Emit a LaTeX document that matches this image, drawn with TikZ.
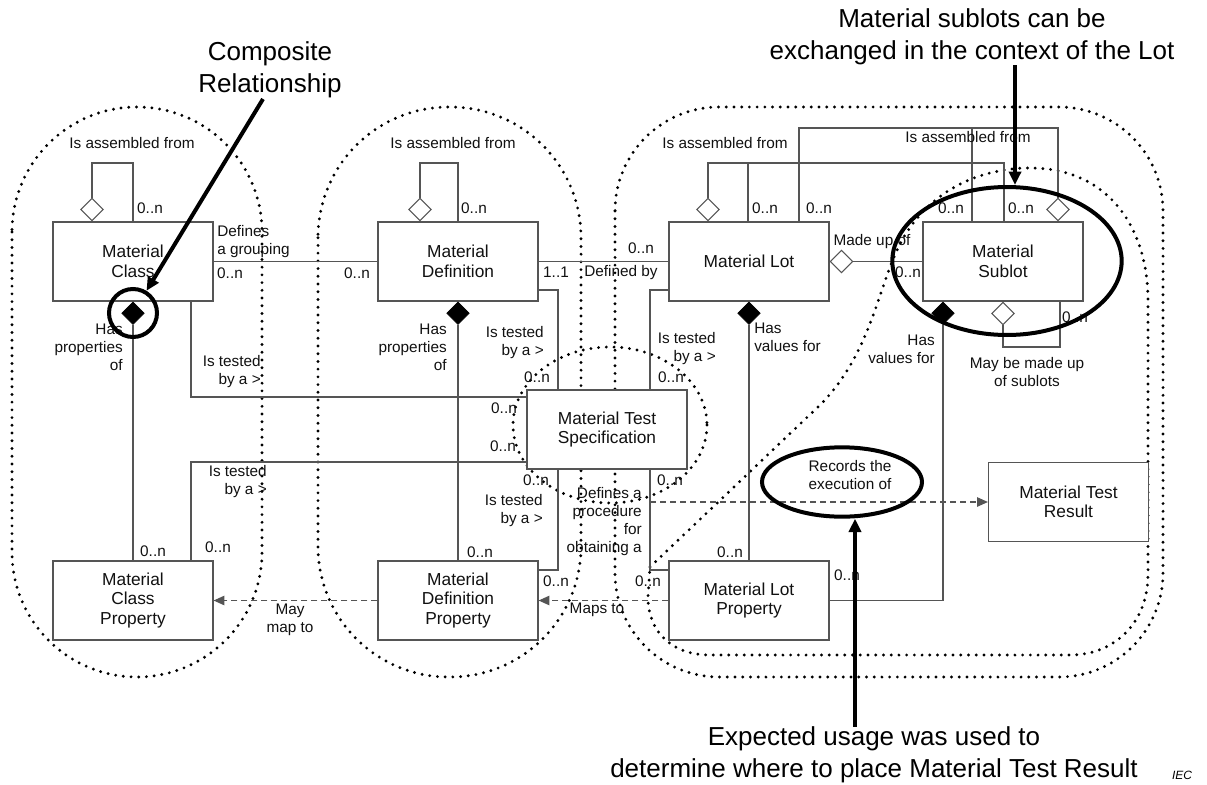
\documentclass[tikz,border=0pt]{standalone}
\usepackage{fontspec}
\setmainfont{Liberation Sans}
\usetikzlibrary{shapes.geometric,arrows.meta,calc}
\definecolor{ln}{HTML}{555555}
\definecolor{tx}{HTML}{111111}
\newcommand\boxfont{\fontsize{13}{14.6}\selectfont}
\newcommand\lblfont{\fontsize{11.5}{13.5}\selectfont}
\newcommand\annfont{\fontsize{19.5}{24}\selectfont}

\begin{document}
\begin{tikzpicture}[x=0.75pt,y=-0.75pt,
  entity/.style={draw=ln, line width=0.9pt, fill=white, minimum width=120pt,
    minimum height=59.25pt, inner sep=2pt, align=center, font=\boxfont, text=tx},
  conn/.style={draw=ln, line width=0.85pt},
  lbl/.style={font=\lblfont, inner sep=0pt, text=tx},
  hdia/.style={diamond, draw=ln, line width=0.8pt, fill=white,
    minimum width=17pt, minimum height=17pt, inner sep=0pt},
  fdia/.style={diamond, draw=black, fill=black,
    minimum width=17pt, minimum height=17pt, inner sep=0pt},
  region/.style={line width=2.4pt, line cap=round, dash pattern=on 0pt off 5.8pt},
  dashconn/.style={draw=ln, line width=0.85pt, dash pattern=on 4.5pt off 3pt,
    -{Triangle[length=8pt,width=7pt]}},
  note/.style={font=\annfont, align=center, inner sep=0pt, text=black},
  ring/.style={draw=black, line width=3pt, inner sep=0pt},
  calloutarrow/.style={line width=3pt, -{Triangle[length=10pt,width=9pt]}}
]
\fill[white] (0,0) rectangle (1207,785);
\useasboundingbox (0,0) rectangle (1207,785);

% ---- grouping regions (dotted) ----
\draw[region, rounded corners=93.75pt] (12,107) rectangle (262,677);
\draw[region, rounded corners=98pt] (318,107) rectangle (581,677);
\draw[region, rounded corners=78pt] (615,107) rectangle (1163,677);
\draw[region] (610,425) circle[x radius=97, y radius=78];
\draw[region] (650,567) -- (820,405)
  .. controls (868,357) and (878,292) .. (895,255)
  .. controls (920,195) and (975,168) .. (1030,168)
  .. controls (1110,168) and (1148,230) .. (1148,300)
  -- (1148,575)
  .. controls (1148,622) and (1115,655) .. (1070,655)
  -- (710,655)
  .. controls (672,655) and (648,632) .. (648,597) -- cycle;

% ---- entities ----
\node[entity] (MC)  at (133,261.5) {Material\\Class};
\node[entity] (MD)  at (458,261.5) {Material\\Definition};
\node[entity] (ML)  at (749,261.5) {Material Lot};
\node[entity] (MS)  at (1003,261.5) {Material\\Sublot};
\node[entity] (MCP) at (133,600.5) {Material\\Class\\Property};
\node[entity] (MDP) at (458,600.5) {Material\\Definition\\Property};
\node[entity] (MLP) at (749,600.5) {Material Lot\\Property};
\node[entity] (MTS) at (607,429.5) {Material Test\\Specification};
\node[entity] (MTR) at (1068.5,502) {Material Test\\Result};

% ---- aggregation / composition diamonds ----
\node[hdia, anchor=south] (dMC)  at (MC.north -| 92,0) {};
\node[hdia, anchor=south] (dMD)  at (MD.north -| 420,0) {};
\node[hdia, anchor=south] (dML)  at (ML.north -| 708,0) {};
\node[hdia, anchor=south] (dMS)  at (MS.north -| 1058,0) {};
\node[hdia, anchor=west]  (dMU)  at (ML.east) {};
\node[hdia, anchor=north] (dSub) at (MS.south -| 1003,0) {};
\node[fdia, anchor=north] (fMC)  at (MC.south) {};
\node[fdia, anchor=north] (fMD)  at (MD.south) {};
\node[fdia, anchor=north] (fML)  at (ML.south) {};
\node[fdia, anchor=north] (fMS)  at (MS.south -| 943,0) {};

% ---- connectors ----
\draw[conn] (dMC.north) |- (133,163) -- (MC.north);
\draw[conn] (dMD.north) |- (458,163) -- (MD.north);
\draw[conn] (dML.north) |- (1004,163) -- (MS.north -| 1004,0);
\draw[conn] (748,163) -- (ML.north -| 748,0);
\draw[conn] (dMS.north) |- (799,128) -- (ML.north -| 799,0);
\draw[conn] (972,128) -- (MS.north -| 972,0);
\draw[conn] (dMU.east) -- (MS.west);
\draw[conn] (dSub.south) |- (1060,347) -- (MS.south -| 1060,0);

\draw[conn] (MC.east) -- (MD.west);
\draw[conn] (MD.east) -- (ML.west);
\draw[conn] (fMC.south) -- (MCP.north);
\draw[conn] (fMD.south) -- (MDP.north);
\draw[conn] (fML.south) -- (MLP.north);
\draw[conn] (fMS.south) |- (MLP.east);

\draw[conn] (MC.south -| 191,0) |- (MTS.west |- 0,397);
\draw[conn] (MCP.north -| 191,0) |- (MTS.west |- 0,462);
\draw[conn] (MD.east |- 0,290) -| (MTS.north -| 558,0);
\draw[conn] (ML.west |- 0,290) -| (MTS.north -| 650,0);
\draw[conn] (MTS.south -| 558,0) |- (MDP.east |- 0,570);
\draw[conn] (MTS.south -| 650,0) |- (MLP.west |- 0,570);

\coordinate (procStart) at (650,502);
\draw[dashconn] (procStart) -- (MTR.west);
\draw[dashconn] (MDP.west) -- (MCP.east);
\draw[dashconn] (MLP.west) -- (MDP.east);

% ---- role labels ----
\node[lbl] (a1) at (132,143) {Is assembled from};
\node[lbl] (a2) at (453,143) {Is assembled from};
\node[lbl] (a3) at (725,143) {Is assembled from};
\node[lbl] (a4) at (968,137) {Is assembled from};

\foreach \x/\y [count=\i] in {150/208, 230/273, 357/273, 153/551, 504/408,
    218/547, 503/446, 474/208, 480/552, 641/248, 537/377, 671/377, 536/480,
    670/480, 556/581, 648/581, 765/208, 819/208, 951/208, 1021/208, 908/272,
    730/552, 847/575, 1075/317}
  \node[lbl] (m\i) at (\x,\y) {0..n};

\node[lbl] (one) at (556,272) {1..1};
\node[lbl] (defby) at (621,273) {Defined by};
\node[lbl] (madeup) at (872,242) {Made up of};
\node[lbl, anchor=west, align=left] (grp) at (217,242) {Defines\\a grouping};
\node[lbl, anchor=east, align=right] (hp1) at (123,347) {Has\\properties\\of};
\node[lbl, anchor=east, align=right] (hp2) at (447,347) {Has\\properties\\of};
\node[lbl, anchor=west, align=left] (hv1) at (754,337) {Has\\values for};
\node[lbl, anchor=east, align=right] (hv2) at (935,349) {Has\\values for};
\node[lbl, anchor=east, align=right] (t1) at (261,372) {Is tested\\by a >};
\node[lbl, anchor=east, align=right] (t2) at (267,482) {Is tested\\by a >};
\node[lbl, anchor=east, align=right] (t3) at (544,343) {Is tested\\by a >};
\node[lbl, anchor=east, align=right] (t4) at (543,511) {Is tested\\by a >};
\node[lbl, anchor=east, align=right] (t5) at (716,349) {Is tested\\by a >};
\node[lbl, anchor=east, align=right] (proc) at (642,522)
  {Defines a\\procedure\\for\\obtaining a};
\node[lbl, align=center] (maymap) at (290,620) {May\\map to};
\node[lbl] (mapsto) at (597,610) {Maps to};
\node[lbl, align=center] (subl) at (1027,372) {May be made up\\of sublots};
\node[lbl, align=center] (rec) at (850,475) {Records the\\execution of};

% ---- call-outs ----
\node[ring, circle, minimum size=36pt] (cMC) at (133,313) {};
\node[ring, ellipse, minimum width=172pt, minimum height=111pt] (eMS) at (1007,261) {};
\node[ring, ellipse, minimum width=120pt, minimum height=52pt] (eRec) at (842,482) {};

\node[note] (tComp) at (270,70) {Composite\\Relationship};
\node[note] (tSub) at (972,37) {Material sublots can be\\exchanged in the context of the Lot};
\node[note] (tExp) at (874,755) {Expected usage was used to\\determine where to place Material Test Result};
\node[font=\itshape\fontsize{9}{10}\selectfont, inner sep=0pt] (iec) at (1182,775) {IEC};

\draw[calloutarrow] (263,99) -- (cMC);
\draw[calloutarrow] (tSub.south -| 1015,0) -- (eMS.north -| 1015,0);
\draw[calloutarrow] (tExp.north -| 855,0) -- (eRec.south -| 855,0);
\end{tikzpicture}
\end{document}
